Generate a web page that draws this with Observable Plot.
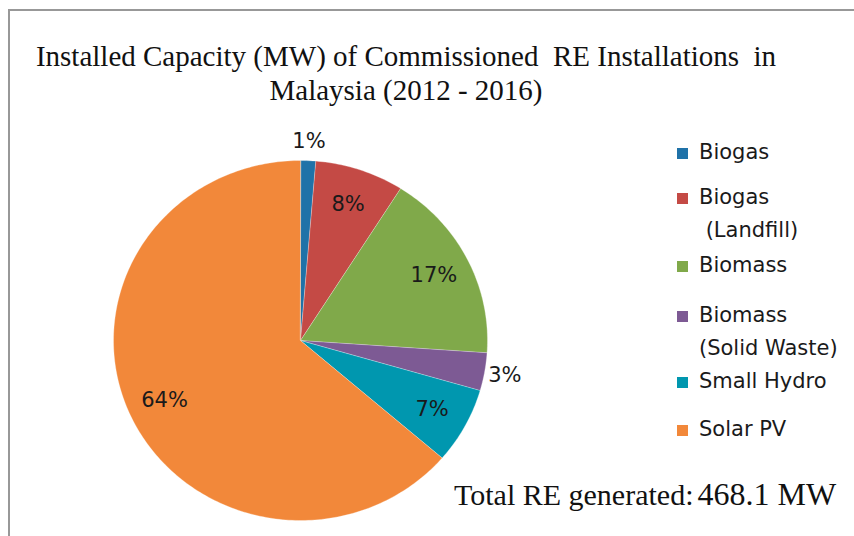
<!DOCTYPE html>
<html><head><meta charset="utf-8">
<script src="https://cdn.jsdelivr.net/npm/d3@7"></script>
<script src="https://cdn.jsdelivr.net/npm/@observablehq/plot@0.6"></script>
<style>
body{margin:0;background:#fff}
#wrap{position:relative;width:854px;height:536px;overflow:hidden;background:#fff}
#chart{position:absolute;left:0;top:0}
#frame{position:absolute;left:8px;top:9px;width:900px;height:600px;border-top:2px solid #989898;border-left:2px solid #989898;pointer-events:none}
.title{position:absolute;left:0;width:812px;text-align:center;font-family:"Liberation Serif",serif;font-size:29px;line-height:34px;color:#111;white-space:pre}
.leg{position:absolute;font-family:"DejaVu Sans",sans-serif;font-size:21px;line-height:20px;color:#1a1a1a;white-space:pre}
.sw{position:absolute;width:11px;height:11px}
#total{position:absolute;left:454px;font-family:"Liberation Serif",serif;color:#111;white-space:pre;line-height:34px}
</style></head>
<body>
<div id="wrap"></div>
<script>
const categories = ["Biogas", "Biogas (Landfill)", "Biomass", "Biomass (Solid Waste)", "Small Hydro", "Solar PV"];
const valuesMW = [6.1, 36.0, 80.0, 15.9, 32.0, 298.1];
const colors = ["#1f72a8", "#c44a45", "#80a94a", "#7d5a94", "#0097af", "#f2883a"];
const legendLines = [["Biogas"], ["Biogas", " (Landfill)"], ["Biomass"], ["Biomass", "(Solid Waste)"], ["Small Hydro"], ["Solar PV"]];
const titleLines = ["Installed Capacity (MW) of Commissioned  RE Installations  in", "Malaysia (2012 - 2016)"];
const totalLabel = "Total RE generated:";
const totalValue = "468.1";
const totalUnit = "MW";

const total = d3.sum(valuesMW);
let cum = 0;
const slices = categories.map((name, i) => {
  const a0 = cum / total * 2 * Math.PI;
  cum += valuesMW[i];
  const a1 = cum / total * 2 * Math.PI;
  return {name, a0, a1, pct: valuesMW[i] / total};
});
const pts = [];
for (const s of slices) {
  pts.push({name: s.name, x: 0, y: 0});
  const n = Math.max(2, Math.ceil((s.a1 - s.a0) / (Math.PI / 180)));
  for (let k = 0; k <= n; k++) {
    const a = s.a0 + (s.a1 - s.a0) * k / n;
    pts.push({name: s.name, x: Math.sin(a), y: Math.cos(a)});
  }
}
const labelR = d => d.pct < 0.05 ? 1.11 : 0.8;
const mid = d => (d.a0 + d.a1) / 2;

const chart = Plot.plot({
  width: 854, height: 536,
  marginLeft: 113, marginRight: 367, marginTop: 160, marginBottom: 16,
  x: {domain: [-1, 1], axis: null},
  y: {domain: [-1, 1], axis: null},
  color: {domain: categories, range: colors},
  style: {background: "transparent", overflow: "visible"},
  marks: [
    Plot.line(pts, {x: "x", y: "y", z: "name", fill: "name", stroke: "#ffffff", strokeWidth: 0.5, strokeOpacity: 0.6, curve: "linear-closed"}),
    Plot.text(slices, {
      x: d => labelR(d) * Math.sin(mid(d)),
      y: d => labelR(d) * Math.cos(mid(d)),
      text: d => Math.round(d.pct * 100) + "%",
      fontSize: 21, fontFamily: "DejaVu Sans", fill: "#1a1a1a"
    })
  ]
});
chart.id = "chart";
const wrap = document.getElementById("wrap");
wrap.appendChild(chart);

const frame = document.createElement("div");
frame.id = "frame";
wrap.appendChild(frame);

// title
const titleTop = [39, 73];
titleLines.forEach((t, i) => {
  const d = document.createElement("div");
  d.className = "title";
  d.style.top = titleTop[i] + "px";
  d.textContent = t;
  wrap.appendChild(d);
});

// legend
const legBaselines = [160, 205, 273, 323, 389, 437];
legendLines.forEach((lines, i) => {
  const sw = document.createElement("div");
  sw.className = "sw";
  sw.style.left = "677px";
  sw.style.top = (legBaselines[i] - 12) + "px";
  sw.style.background = colors[i];
  wrap.appendChild(sw);
  lines.forEach((t, j) => {
    const d = document.createElement("div");
    d.className = "leg";
    d.style.left = "699px";
    d.style.top = (legBaselines[i] + j * 33 - 18) + "px";
    d.textContent = t;
    wrap.appendChild(d);
  });
});

// total
const tot = document.createElement("div");
tot.id = "total";
tot.style.top = "477px";
tot.innerHTML = `<span style="font-size:30px">${totalLabel}</span> <span style="font-size:32px">${totalValue}</span><span style="font-size:32px"> ${totalUnit}</span>`;
wrap.appendChild(tot);
</script>
</body></html>
